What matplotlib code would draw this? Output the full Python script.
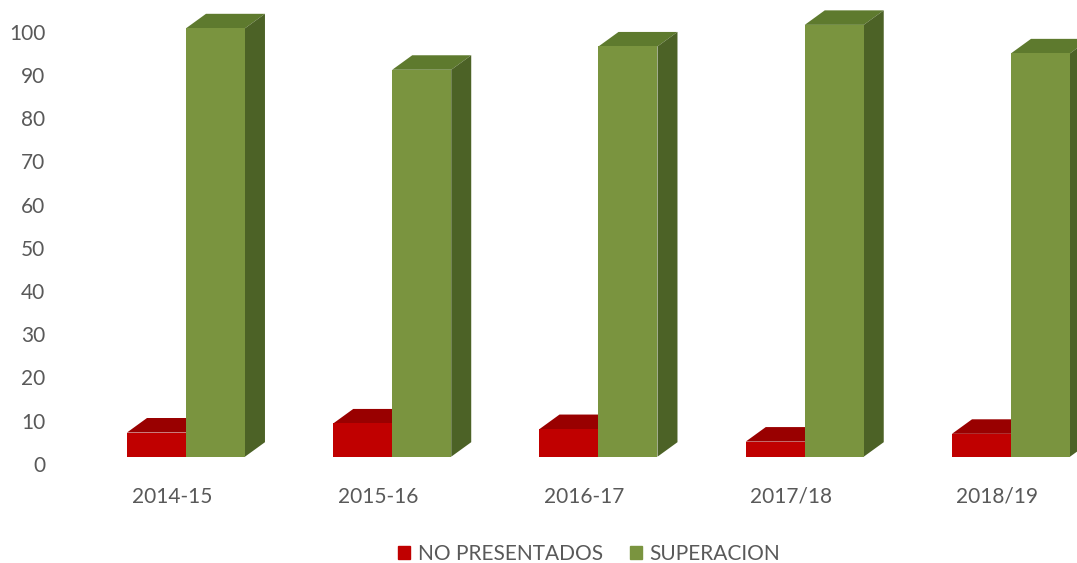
import matplotlib.pyplot as plt
from matplotlib.patches import Polygon, Patch
import matplotlib.transforms as mtransforms
import numpy as np

# datos
cursos = ['2014-15', '2015-16', '2016-17', '2017/18', '2018/19']
no_presentados = [5.6, 7.7, 6.4, 3.5, 5.3]
superacion = [99.2, 89.6, 95.0, 100.0, 93.4]

# colores (frente, arriba, lado)
ROJO = ('#C00000', '#990000', '#7F0000')
VERDE = ('#7A943F', '#5E7A2E', '#4C6226')

plt.rcParams['font.family'] = ['Lato', 'DejaVu Sans']

fig = plt.figure(figsize=(10.77, 5.63), dpi=100)
ax = fig.add_axes([55 / 1077, (563 - 470) / 563, 1 - 55 / 1077, (470 - 5) / 563])

x = np.arange(len(cursos))
ancho = 0.286
dx, dy = 0.097, 3.36  # profundidad del efecto 3D


def barras_3d(pos, valores, colores):
    ax.bar(pos, valores, width=ancho, color=colores[0], zorder=2)
    for p, v in zip(pos, valores):
        x0, x1 = p - ancho / 2, p + ancho / 2
        arriba = Polygon([(x0, v), (x1, v), (x1 + dx, v + dy), (x0 + dx, v + dy)],
                         closed=True, facecolor=colores[1], edgecolor='none', zorder=1)
        lado = Polygon([(x1, 0), (x1 + dx, dy), (x1 + dx, v + dy), (x1, v)],
                       closed=True, facecolor=colores[2], edgecolor='none', zorder=1)
        ax.add_patch(arriba)
        ax.add_patch(lado)


barras_3d(x - 0.075, no_presentados, ROJO)
barras_3d(x + 0.211, superacion, VERDE)

ax.set_xlim(-0.567, 4.388)
ax.set_ylim(-3.08, 104.6)
ax.set_yticks(range(0, 101, 10))
ax.set_xticks(x)
ax.set_xticklabels(cursos)
ax.tick_params(axis='both', length=0, labelsize=15, colors='#595959')
ax.tick_params(axis='y', pad=7)
ax.tick_params(axis='x', pad=12)
for s in ax.spines.values():
    s.set_visible(False)

# etiquetas del eje y un poco mas abajo, como en el original
desplazar = mtransforms.ScaledTranslation(0, -7 / 100, fig.dpi_scale_trans)
for lab in ax.get_yticklabels():
    lab.set_transform(lab.get_transform() + desplazar)

handles = [Patch(color=ROJO[0], label='NO PRESENTADOS'),
           Patch(color=VERDE[0], label='SUPERACION')]
fig.legend(handles=handles, loc='center', bbox_to_anchor=(589 / 1077, 1 - 554 / 563),
           ncol=2, frameon=False, fontsize=15, handlelength=0.6, handleheight=0.6,
           handletextpad=0.35, columnspacing=1.3, labelcolor='#595959')

fig.savefig('out.png', dpi=100)
